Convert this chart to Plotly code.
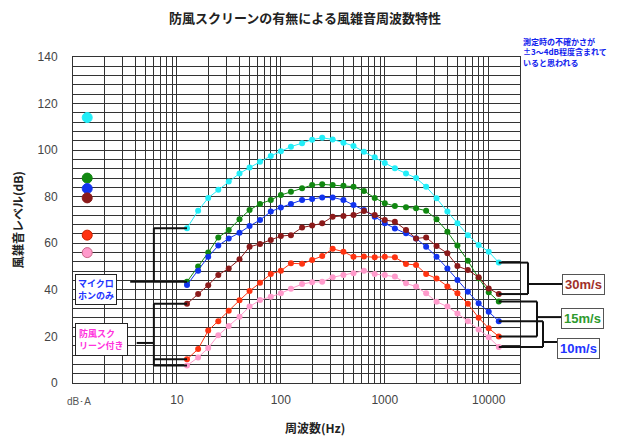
import math
import plotly.graph_objects as go

# ---------------- data ----------------
freqs = [12.5, 16, 20, 25, 31.5, 40, 50, 63, 80, 100, 125, 160, 200, 250, 315,
         400, 500, 630, 800, 1000, 1250, 1600, 2000, 2500, 3150, 4000, 5000,
         6300, 8000, 10000, 12500]

mic_30 = [66.5, 74, 79.5, 83, 86.5, 90, 92.5, 95, 97.5, 99.5, 101.5, 103, 104.5, 105.3, 104.6,
          103.2, 101.8, 99.3, 97, 94.5, 92.2, 90, 88, 84.3, 79.3, 73.6, 68.6, 63.5, 59.3, 56.4, 51.7]
mic_15 = [43.5, 50, 56, 62.5, 65.7, 70.3, 74.3, 76.9, 78.6, 80.7, 82.1, 83.6, 85, 85.3, 85,
          84.7, 84.3, 82.5, 79.5, 77.2, 76, 75.5, 75, 74, 70.3, 65, 59, 52.5, 45, 39, 35]
mic_10 = [42.1, 48.2, 54.2, 59, 62.1, 64.5, 67.4, 70, 73.6, 75.4, 76.9, 78.6, 79, 79.7, 79.7,
          78.6, 76.4, 74.3, 71.4, 68.6, 66.4, 64.3, 62.1, 58.5, 54.2, 49.2, 44.2, 39.2, 34.2, 30.6, 26.5]
scr_30 = [34, 38.2, 42, 46.4, 49.2, 53.1, 58.5, 59.7, 61.4, 63.1, 63.5, 66.8, 67.6, 68.6, 71.4,
          71.7, 72.1, 73.9, 72.1, 70, 69.3, 65.7, 62.1, 62.5, 58.8, 55.7, 50.2, 48.5, 45.4, 40.6, 38.2]
scr_15 = [10.2, 14.6, 22.5, 26.5, 31, 35.5, 39.5, 43, 46.8, 48.2, 51.4, 51.2, 52.8, 54.5, 57.6,
          56.4, 54.2, 54.3, 54, 54.2, 54, 51.1, 50.7, 46.8, 44.9, 41.4, 38.5, 34, 28, 23.5, 20]
scr_10 = [7.5, 11, 15, 20.5, 24.5, 28.5, 32.8, 35.6, 37, 38.5, 40.5, 42.5, 43.3, 43.5, 45.4,
          46.4, 47.1, 48.2, 46.8, 46.4, 45.7, 42.8, 41.4, 38.5, 34.9, 32.8, 29.9, 26.5, 23, 19.7, 15.5]

# overall dB(A) values
dba_x = 1.37
dba_values = [114, 88, 83.5, 79.5, 63.5, 56]

series_names = ["マイクロホンのみ 30m/s", "マイクロホンのみ 15m/s", "マイクロホンのみ 10m/s",
                "防風スクリーン付き 30m/s", "防風スクリーン付き 15m/s", "防風スクリーン付き 10m/s"]
series_data = [mic_30, mic_15, mic_10, scr_30, scr_15, scr_10]
colors = ["#22EEF8", "#118811", "#1133EE", "#8B1A1A", "#FF3311", "#FF9ACB"]

x_tickvals = [10, 100, 1000, 10000]
x_ticktext = ["10", "100", "1000", "10000"]
y_tickvals = list(range(0, 141, 20))

title = "防風スクリーンの有無による風雑音周波数特性"
x_title = "周波数(Hz)"
y_title = "風雑音レベル(dB)"
note = "測定時の不確かさが<br>±3～4dB程度含まれて<br>いると思われる"

# ---------------- figure ----------------
X_MAX = 20000
LX = math.log10(X_MAX)


def px(f):
    return math.log10(f) / LX


def py(v):
    return v / 140.0


FONT = "Noto Sans CJK JP"
fig = go.Figure()

for name, ys, c in zip(series_names, series_data, colors):
    fig.add_trace(go.Scatter(
        x=freqs, y=ys, mode="lines+markers", name=name,
        line=dict(color=c, width=1),
        marker=dict(color=c, size=6, symbol="circle"),
        showlegend=False, cliponaxis=False))

fig.add_trace(go.Scatter(
    x=[dba_x] * len(dba_values), y=dba_values, mode="markers",
    marker=dict(color=colors, size=10, line=dict(color=["#22EEF8", "#118811", "#1133EE",
                                                        "#8B1A1A", "#CC2200", "#CC6688"], width=1)),
    showlegend=False))

grid_minor = [k * 10 ** d for d in range(0, 5) for k in range(1, 10) if k * 10 ** d <= X_MAX]
GRID = "#333333"

fig.update_xaxes(
    type="log", range=[0, LX],
    tickmode="array", tickvals=x_tickvals, ticktext=x_ticktext,
    showgrid=True, gridcolor=GRID, gridwidth=1,
    minor=dict(tickmode="array", tickvals=grid_minor, showgrid=True, gridcolor=GRID, gridwidth=1),
    showline=True, linecolor=GRID, linewidth=1, mirror=True,
    ticks="", ticklabelstandoff=6,
    tickfont=dict(family="Liberation Sans", size=12, color="#444444"),
    zeroline=False)

fig.update_yaxes(
    range=[0, 140], tickmode="array", tickvals=y_tickvals,
    showgrid=True, gridcolor=GRID, gridwidth=1,
    minor=dict(dtick=4, tick0=0, showgrid=True, gridcolor=GRID, gridwidth=1),
    showline=True, linecolor=GRID, linewidth=1, mirror=True,
    ticks="", ticklabelstandoff=12,
    tickfont=dict(family="Liberation Sans", size=12, color="#444444"),
    zeroline=False)

shapes = []
annotations = []


def seg(x0, y0, x1, y1, w=2):
    shapes.append(dict(type="line", xref="paper", yref="paper",
                       x0=x0, y0=y0, x1=x1, y1=y1,
                       line=dict(color="#111111", width=w)))


# ---- left brackets ----
xb = px(6)
x_first = px(freqs[0])
# マイクロホンのみ
seg(xb, py(mic_30[0]), x_first, py(mic_30[0]))
seg(xb, py(mic_15[0]), x_first, py(mic_15[0]))
seg(xb, py(mic_30[0]), xb, py(mic_15[0]))
seg(px(3.55), py(mic_15[0]), xb, py(mic_15[0]))
# 防風スクリーン付き
seg(xb, py(scr_30[0]), x_first, py(scr_30[0]))
seg(xb, py(scr_15[0]), x_first, py(scr_15[0]))
seg(xb, py(scr_10[0]), x_first, py(scr_10[0]))
seg(xb, py(scr_30[0]), xb, py(scr_10[0]))
seg(px(4.1), py(17.2), xb, py(17.2))

annotations.append(dict(
    xref="paper", yref="paper", x=px(1.04), y=py(40.3), xanchor="left", yanchor="middle",
    text="<b>マイクロ<br>ホンのみ</b>", showarrow=False, align="left",
    font=dict(family=FONT, size=9, color="#2233FF"),
    bgcolor="white", bordercolor="#222222", borderwidth=1, borderpad=2))
annotations.append(dict(
    xref="paper", yref="paper", x=px(1.04), y=py(18.5), xanchor="left", yanchor="middle",
    text="<b>防風スク<br>リーン付き</b>", showarrow=False, align="left",
    font=dict(family=FONT, size=9, color="#FF33DD"),
    bgcolor="white", bordercolor="#222222", borderwidth=1, borderpad=3))

# ---- right brackets ----
x_last = px(freqs[-1])
PLOT_W = 447.0


def xr(pix):  # pixel offset from plot left -> paper
    return pix / PLOT_W


right_groups = [
    ("30m/s", mic_30[-1], scr_30[-1], 455, 42.5, "#A0302A"),
    ("15m/s", mic_15[-1], scr_15[-1], 464, 28.3, "#2E9A2E"),
    ("10m/s", mic_10[-1], scr_10[-1], 470, 17.6, "#2233FF"),
]
box_left = [489, 488, 484]
box_y = [42.5, 27.5, 15.0]
for (lab, ya, yb, xv, yc, col), bl, byc in zip(right_groups, box_left, box_y):
    seg(x_last, py(ya), xr(xv), py(ya))
    seg(x_last, py(yb), xr(xv), py(yb))
    seg(xr(xv), py(ya), xr(xv), py(yb))
    seg(xr(xv), py(yc), xr(bl), py(yc))
    annotations.append(dict(
        xref="paper", yref="paper", x=xr(bl), y=py(byc), xanchor="left", yanchor="middle",
        text="<b>" + lab + "</b>", showarrow=False,
        font=dict(family="Liberation Sans", size=13, color=col),
        bgcolor="white", bordercolor="#555555", borderwidth=1, borderpad=2))

# ---- texts ----
annotations.append(dict(xref="paper", yref="paper", x=px(1.15), y=-0.035,
                        xanchor="center", yanchor="top", text="dB･A", showarrow=False,
                        font=dict(family="Liberation Sans", size=10, color="#555555")))
annotations.append(dict(xref="paper", yref="paper", x=xr(448), y=py(140) + 0.07,
                        xanchor="left", yanchor="top", text="<b>" + note + "</b>",
                        showarrow=False, align="left",
                        font=dict(family=FONT, size=8, color="#1122EE")))
annotations.append(dict(xref="paper", yref="paper", x=xr(242), y=-0.138,
                        xanchor="center", yanchor="middle", text="<b>" + x_title + "</b>",
                        showarrow=False, font=dict(family=FONT, size=12, color="#222222")))
annotations.append(dict(xref="paper", yref="paper", x=-0.125, y=0.5, textangle=-90,
                        xanchor="center", yanchor="middle", text="<b>" + y_title + "</b>",
                        showarrow=False, font=dict(family=FONT, size=12, color="#222222")))

fig.update_layout(
    width=627, height=439,
    margin=dict(l=73, r=107, t=57, b=56),
    paper_bgcolor="white", plot_bgcolor="white",
    title=dict(text="<b>" + title + "</b>", x=305 / 627, xanchor="center", y=1 - 18 / 439,
               yanchor="middle", font=dict(family=FONT, size=13, color="#222222")),
    shapes=shapes, annotations=annotations,
)

fig.write_html("out.html")
